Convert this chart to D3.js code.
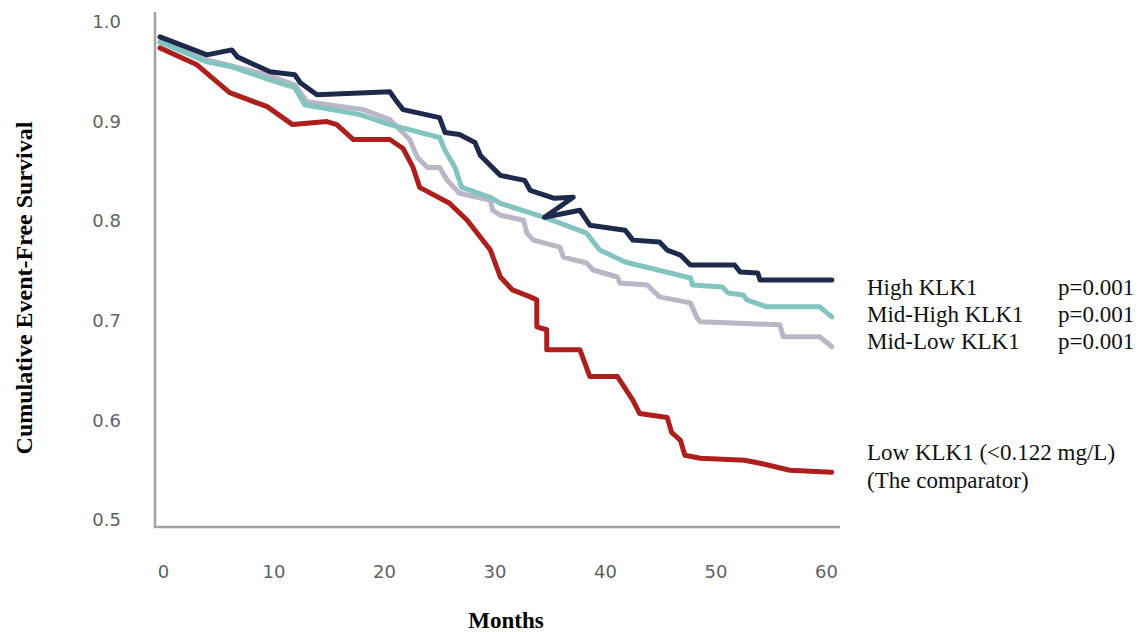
<!DOCTYPE html>
<html>
<head>
<meta charset="utf-8">
<script src="https://cdn.jsdelivr.net/npm/d3@7"></script>
<style>
  body { margin: 0; background: #fff; }
  svg { display: block; }
</style>
</head>
<body>
<svg id="chart" width="1140" height="632"></svg>
<script>
// Kaplan-Meier curves as [month, survival]
var highKLK1 = [
  [0,0.985],[4.25,0.967],[6.5,0.972],[7.0,0.965],[9.95,0.950],[12.2,0.947],[12.7,0.939],
  [14.2,0.927],[20.8,0.930],[21.3,0.922],[22.0,0.912],[25.3,0.904],[25.8,0.889],[27.1,0.887],
  [28.5,0.879],[29.0,0.866],[29.9,0.856],[30.8,0.846],[33.0,0.841],[33.5,0.831],[35.7,0.823],
  [37.4,0.824],[34.8,0.804],[38.0,0.811],[38.9,0.796],[42.1,0.791],[42.8,0.781],[45.2,0.779],
  [45.9,0.771],[47.1,0.766],[48.0,0.756],[52.0,0.756],[52.5,0.749],[54.1,0.748],[54.3,0.741],
  [60.8,0.741]
];
var midHighKLK1 = [
  [0,0.980],[4.25,0.960],[6.5,0.955],[9.95,0.942],[12.2,0.934],[13.1,0.917],[18.1,0.907],
  [20.8,0.897],[25.3,0.884],[25.8,0.871],[26.7,0.854],[27.3,0.834],[29.9,0.824],[30.8,0.818],
  [34.7,0.804],[36.2,0.798],[38.6,0.788],[39.8,0.771],[42.1,0.759],[48.0,0.743],[48.2,0.736],
  [50.9,0.734],[51.4,0.728],[52.8,0.726],[53.1,0.721],[54.9,0.714],[59.7,0.714],[60.8,0.704]
];
var midLowKLK1 = [
  [0,0.980],[4.25,0.962],[6.5,0.956],[9.95,0.946],[12.2,0.937],[13.3,0.920],[18.4,0.912],
  [20.8,0.902],[22.6,0.882],[23.3,0.864],[24.2,0.854],[25.3,0.854],[26.0,0.841],[27.1,0.828],
  [29.9,0.821],[30.1,0.811],[30.8,0.806],[32.9,0.801],[33.2,0.788],[33.8,0.781],[36.2,0.774],
  [36.5,0.764],[38.6,0.758],[39.2,0.751],[41.4,0.744],[41.6,0.738],[44.1,0.736],[45.2,0.724],
  [48.0,0.718],[48.6,0.703],[48.9,0.699],[56.1,0.696],[56.4,0.684],[59.7,0.684],[60.8,0.674]
];
var lowKLK1 = [
  [0,0.974],[3.35,0.957],[6.3,0.929],[9.7,0.915],[12.0,0.897],[15.1,0.900],[16.0,0.897],
  [17.5,0.882],[20.8,0.882],[22.0,0.873],[22.9,0.854],[23.5,0.834],[26.2,0.818],[27.8,0.801],
  [29.9,0.771],[30.8,0.744],[31.9,0.731],[33.5,0.724],[34.1,0.721],[34.1,0.694],[35.0,0.691],
  [35.0,0.671],[38.0,0.671],[38.9,0.644],[41.4,0.644],[42.8,0.620],[43.4,0.607],[45.9,0.603],
  [46.3,0.588],[47.1,0.580],[47.5,0.565],[48.9,0.562],[52.9,0.560],[54.3,0.557],[57.0,0.550],
  [60.8,0.548]
];

var xTicks = [0, 10, 20, 30, 40, 50, 60];
var yTicks = [0.5, 0.6, 0.7, 0.8, 0.9, 1.0];
var legendNames = ["High KLK1", "Mid-High KLK1", "Mid-Low KLK1"];
var legendP = ["p=0.001", "p=0.001", "p=0.001"];
var comparatorText = ["Low KLK1 (<0.122 mg/L)", "(The comparator)"];

var svg = d3.select("#chart");

var x = d3.scaleLinear().domain([0, 60]).range([160, 823]);
var y = d3.scaleLinear().domain([0.5, 1.0]).range([520, 22]);

// axis lines (drawn by hand, a bit past the 0.5 tick like the original)
svg.append("path")
  .attr("d", "M155,12 V527 H840")
  .attr("fill", "none")
  .attr("stroke", "#a2a2a2")
  .attr("stroke-width", 2.5);

var yAxis = svg.append("g")
  .attr("transform", "translate(155,0)")
  .call(d3.axisLeft(y).tickValues(yTicks).tickSize(0).tickPadding(34).tickFormat(d3.format(".1f")));
var xAxis = svg.append("g")
  .attr("transform", "translate(0,527)")
  .call(d3.axisBottom(x).tickValues(xTicks).tickSize(0).tickPadding(38));

[yAxis, xAxis].forEach(function(a) {
  a.select(".domain").remove();
  a.selectAll("text")
    .style("font-family", "'DejaVu Sans', sans-serif")
    .style("font-size", "18px")
    .style("fill", "#626262");
});
xAxis.selectAll("text").attr("dx", 3);

var line = d3.line()
  .x(function(d) { return x(d[0]); })
  .y(function(d) { return y(d[1]); });

var series = [
  { data: midLowKLK1, color: "#bab6c6" },
  { data: midHighKLK1, color: "#82c4c0" },
  { data: lowKLK1, color: "#ad1f1c" },
  { data: highKLK1, color: "#1e2a4c" }
];

svg.selectAll(".curve").data(series).enter()
  .append("path")
  .attr("class", "curve")
  .attr("d", function(d) { return line(d.data); })
  .attr("fill", "none")
  .attr("stroke", function(d) { return d.color; })
  .attr("stroke-width", 5)
  .attr("stroke-linejoin", "round")
  .attr("stroke-linecap", "round");

// axis titles
svg.append("text")
  .attr("transform", "translate(32,288) rotate(-90)")
  .attr("text-anchor", "middle")
  .style("font-family", "'Liberation Serif', 'Times New Roman', serif")
  .style("font-weight", "bold")
  .style("font-size", "24px")
  .text("Cumulative Event-Free Survival");

svg.append("text")
  .attr("x", 506)
  .attr("y", 628)
  .attr("text-anchor", "middle")
  .style("font-family", "'Liberation Serif', 'Times New Roman', serif")
  .style("font-weight", "bold")
  .style("font-size", "23px")
  .text("Months");

// legend text
var legend = svg.append("g")
  .style("font-family", "'Liberation Serif', 'Times New Roman', serif")
  .style("font-size", "23px")
  .style("fill", "#111");

legendNames.forEach(function(name, i) {
  legend.append("text").attr("x", 867).attr("y", 295 + i * 27).text(name);
  legend.append("text").attr("x", 1058).attr("y", 295 + i * 27).text(legendP[i]);
});
comparatorText.forEach(function(t, i) {
  legend.append("text").attr("x", 867).attr("y", 460 + i * 28).text(t);
});
</script>
</body>
</html>
